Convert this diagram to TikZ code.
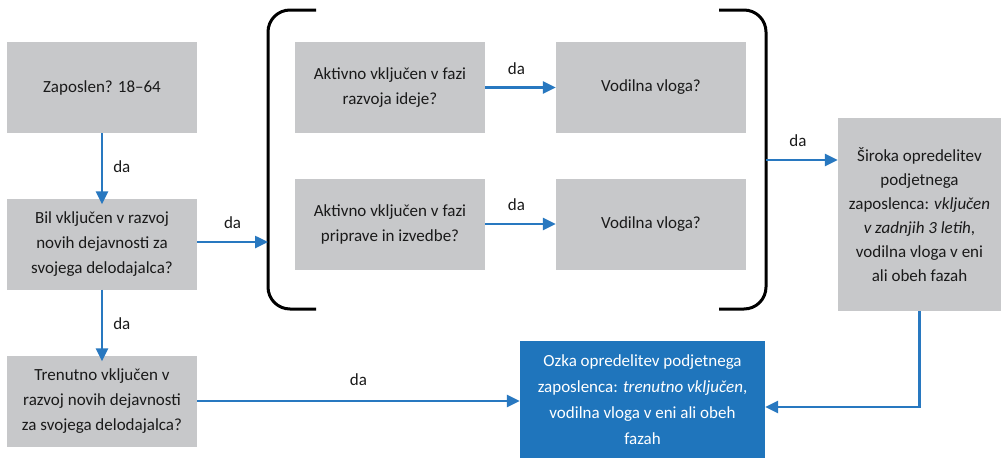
\documentclass[tikz,border=0pt]{standalone}
\usepackage{fontspec}
\setmainfont{Carlito}
\usetikzlibrary{arrows.meta,calc}
\definecolor{boxgray}{HTML}{C7C8CA}
\definecolor{boxblue}{HTML}{1F75BC}
\definecolor{arrblue}{HTML}{2878C0}
\definecolor{txt}{HTML}{1A1A1A}
\tikzset{
  gbox/.style={draw=none, fill=boxgray, text=txt, align=center, inner sep=0pt,
    font=\fontsize{17pt}{25pt}\selectfont, minimum width=190pt, minimum height=91pt},
  arr/.style={draw=arrblue, line width=2.5pt, -{Triangle[length=13pt,width=12pt]}},
  lbl/.style={text=txt, font=\fontsize{17pt}{20pt}\selectfont, inner sep=0pt},
  brk/.style={draw=black, line width=3pt, rounded corners=22pt}
}
\begin{document}
\begin{tikzpicture}[x=1pt,y=-1pt]
\useasboundingbox (0,0) rectangle (1001,458);
\fill[white] (0,0) rectangle (1001,458);

\node[gbox] (Z) at (102,87.5) {Zaposlen? 18–64};
\node[gbox] (B) at (102,244) {Bil vključen v razvoj\\novih dejavnosti za\\svojega delodajalca?};
\node[gbox] (T) at (102,401) {Trenutno vključen v\\razvoj novih dejavnosti\\za svojega delodajalca?};

\node[gbox] (A1) at (390,87.5) {Aktivno vključen v fazi\\razvoja ideje?};
\node[gbox] (V1) at (651,87.5) {Vodilna vloga?};
\node[gbox] (A2) at (390,224) {Aktivno vključen v fazi\\priprave in izvedbe?};
\node[gbox] (V2) at (651,224) {Vodilna vloga?};

\node[gbox, minimum width=163pt, minimum height=193pt, font=\fontsize{17pt}{24pt}\selectfont] (S) at (919.5,214.5)
  {Široka opredelitev\\podjetnega\\zaposlenca: \textit{vključen}\\\textit{v zadnjih 3 letih},\\vodilna vloga v eni\\ali obeh fazah};
\node[gbox, fill=boxblue, text=white, minimum width=245pt, minimum height=117pt, font=\fontsize{17pt}{26pt}\selectfont] (O) at (642.5,399.5)
  {Ozka opredelitev podjetnega\\zaposlenca: \textit{trenutno vključen},\\vodilna vloga v eni ali obeh\\fazah};

% brackets
\draw[brk] (316,10) -- (268,10) -- (268,309) -- (316,309);
\draw[brk] (719,10) -- (766,10) -- (766,309) -- (719,309);
\coordinate (bl) at (268,242);
\coordinate (br) at (766,160);

% arrows
\draw[arr] (Z.south) -- ([yshift=-6pt]B.north) node[lbl, midway, right=10pt, yshift=2pt] {da};
\draw[arr] (B.south) -- ([yshift=-6pt]T.north) node[lbl, midway, right=10pt, yshift=2pt] {da};
\draw[arr] (B.east |- bl) -- (bl) node[lbl, midway, above=12pt] {da};
\draw[arr] (A1.east) -- (V1.west) node[lbl, midway, above=12pt, xshift=-4pt] {da};
\draw[arr] (A2.east) -- (V2.west) node[lbl, midway, above=12pt, xshift=-4pt] {da};
\draw[arr] (br) -- (S.west |- br) node[lbl, midway, above=12pt, xshift=-4pt] {da};
\draw[arr] (T.east) -- (T.east -| O.west) node[lbl, midway, above=14pt] {da};
\draw[arr] (S.south) |- ([yshift=-7.5pt]O.east);
\end{tikzpicture}
\end{document}
